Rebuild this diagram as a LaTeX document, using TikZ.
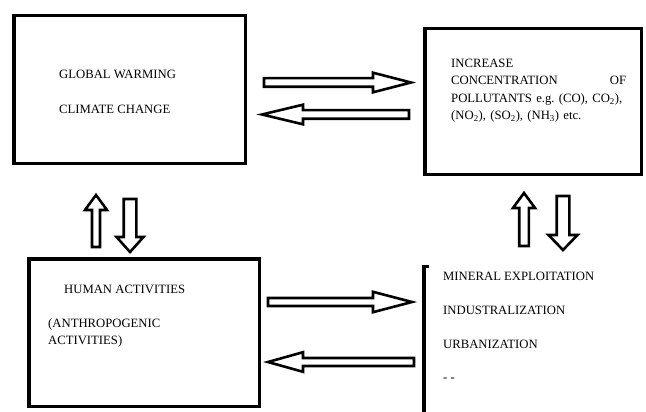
\documentclass[tikz,border=0pt]{standalone}
\usepackage{fontspec}
\setmainfont{Liberation Serif}
\tikzset{
  boxline/.style={draw=black, line width=3.5pt},
  blockarr/.style={draw=black, line width=2.6pt, fill=white, line join=miter},
  lbl/.style={anchor=base west, inner sep=0pt, font=\fontsize{12.7}{14}\selectfont},
}
% horizontal block arrow: tail x, head-base x, tip x, centre y, shaft half width, head half width
\newcommand\harrowblk[6]{%
  \draw[blockarr] (#1,#4-#5) -- (#2,#4-#5) -- (#2,#4-#6) -- (#3,#4) -- (#2,#4+#6) -- (#2,#4+#5) -- (#1,#4+#5) -- cycle;}
% vertical block arrow: centre x, tail y, head-base y, tip y, shaft half width, head half width
\newcommand\varrowblk[6]{%
  \draw[blockarr] (#1-#5,#2) -- (#1-#5,#3) -- (#1-#6,#3) -- (#1,#4) -- (#1+#6,#3) -- (#1+#5,#3) -- (#1+#5,#2) -- cycle;}
\begin{document}
\begin{tikzpicture}[x=1pt,y=-1pt]
\useasboundingbox (0,0) rectangle (646,412);
% boxes
\node[boxline, minimum width=231.5pt, minimum height=147.5pt, inner sep=0pt] (gw) at (129.5,89.5) {};
\node[boxline, minimum width=216.5pt, minimum height=145.5pt, inner sep=0pt] (pol) at (533,101.5) {};
\node[boxline, minimum width=230.5pt, minimum height=147.5pt, inner sep=0pt] (ha) at (144,332.5) {};
% bracket
\coordinate (brt) at (428.5,266.5);
\coordinate (brc) at (424,266.5);
\coordinate (brb) at (424,414);
\draw[line width=3.2pt] (brt) -- (brc) -- (brb);
% texts
\node[lbl] (t1) at (59,78.5) {GLOBAL WARMING};
\node[lbl] (t2) at (59,113.5) {CLIMATE CHANGE};
\node[anchor=north west, inner sep=0pt, text width=175pt, align=left,
      font=\fontsize{12.7}{17.3}\selectfont] (t3) at (451,59)
  {INCREASE\\
   CONCENTRATION\hfill OF\\
   POLLUTANTS e.g.\ (CO), CO\textsubscript{2}),\\
   (NO\textsubscript{2}), (SO\textsubscript{2}), (NH\textsubscript{3}) etc.};
\node[lbl] (t4) at (64,293.5) {HUMAN ACTIVITIES};
\node[lbl] (t5) at (48,327.5) {(ANTHROPOGENIC};
\node[lbl] (t6) at (48,344.5) {ACTIVITIES)};
\node[lbl] (t7) at (443,280.5) {MINERAL EXPLOITATION};
\node[lbl] (t8) at (443,314.5) {INDUSTRALIZATION};
\node[lbl] (t9) at (443,348.5) {URBANIZATION};
\node[lbl] (t10) at (443,381.5) {- -};
% horizontal arrows
\harrowblk{264}{373}{411}{82.5}{4.3}{9.8}
\harrowblk{409}{303}{262}{114.5}{4.3}{9.8}
\harrowblk{268}{373}{412}{302}{4}{10.2}
\harrowblk{414}{303}{268}{362}{4}{9.8}
% vertical arrows
\varrowblk{96}{247}{210}{195}{4}{11}
\varrowblk{130}{199}{237}{252}{6.3}{13.5}
\varrowblk{524}{246}{208}{193}{4.8}{11}
\varrowblk{563}{196}{235}{250}{6.3}{14.5}
\end{tikzpicture}
\end{document}
